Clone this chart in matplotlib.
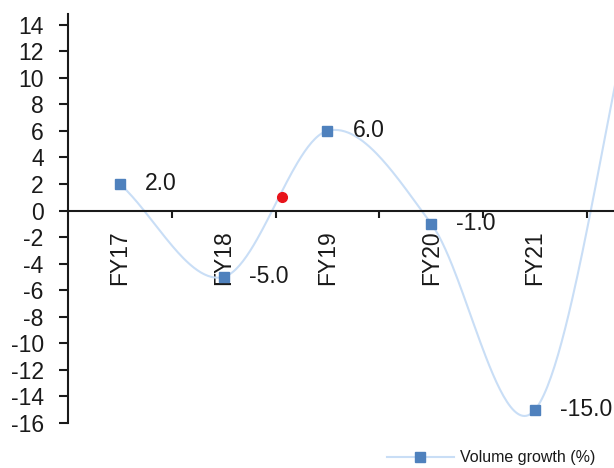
import numpy as np
import matplotlib
matplotlib.use("Agg")
import matplotlib.pyplot as plt

plt.rcParams['font.family'] = ['Liberation Sans Narrow', 'Liberation Sans', 'DejaVu Sans']
plt.rcParams['axes.unicode_minus'] = False

# data (FY22 is off the right edge, estimated from the curve)
years = ['FY17', 'FY18', 'FY19', 'FY20', 'FY21', 'FY22']
volume_growth = [2.0, -5.0, 6.0, -1.0, -15.0, 18.0]
n_shown = 5
red_x = 1.56
red_y = 1.04

line_col = '#c9def6'
mark_col = '#4f81bd'
txt_col = '#1a1a1a'


def smooth(y, steps=60):
    # Excel style smoothing (Catmull-Rom with chord tangent at the ends)
    y = np.asarray(y, dtype=float)
    n = len(y)
    m = np.zeros(n)
    m[1:-1] = (y[2:] - y[:-2]) / 2
    m[0] = y[1] - y[0]
    m[-1] = y[-1] - y[-2]
    xs, ys = [], []
    t = np.linspace(0, 1, steps)
    for i in range(n - 1):
        h00 = 2*t**3 - 3*t**2 + 1
        h10 = t**3 - 2*t**2 + t
        h01 = -2*t**3 + 3*t**2
        h11 = t**3 - t**2
        xs.append(i + t)
        ys.append(h00*y[i] + h10*m[i] + h01*y[i+1] + h11*m[i+1])
    return np.concatenate(xs), np.concatenate(ys)


fig = plt.figure(figsize=(6.14, 4.68), dpi=100)
ax = fig.add_axes([0.1107, 0.0962, 0.8893, 0.8739])

sx, sy = smooth(volume_growth)
ax.plot(sx, sy, color=line_col, lw=1.5, zorder=2)
xi = np.arange(len(years))
ax.plot(xi, volume_growth, ls='none', marker='s', ms=6.5, color=mark_col, zorder=3)
# legend proxy
ax.plot([], [], color=line_col, lw=1.5, marker='s', ms=6.5, mfc=mark_col, mec=mark_col,
        label='Volume growth (%)')
ax.plot([red_x], [red_y], 'o', ms=7, color='#e8131b', zorder=4)

for i in range(n_shown):
    ax.annotate('%.1f' % volume_growth[i], (i, volume_growth[i]), xytext=(18, 0),
                textcoords='offset points', ha='left', va='center', fontsize=16.5,
                color=txt_col)

ax.set_xlim(-0.5, 4.76)
ax.set_ylim(-16, 14.8)
ax.set_yticks(np.arange(-16, 15, 2))

for s in ['top', 'right']:
    ax.spines[s].set_visible(False)
ax.spines['bottom'].set_position(('data', 0))
for s in ['left', 'bottom']:
    ax.spines[s].set_linewidth(1.5)
    ax.spines[s].set_color(txt_col)

ax.set_xticks(xi[:n_shown])
ax.set_xticklabels(years[:n_shown], rotation=90, va='top', ha='center')
ax.set_xticks(np.arange(0.5, 4.6, 1.0), minor=True)
ax.tick_params(axis='x', which='major', length=0, pad=14, labelsize=16.5, labelcolor=txt_col)
ax.tick_params(axis='x', which='minor', length=5, width=1.5, color=txt_col, direction='out')
ax.tick_params(axis='y', length=6.5, width=1.5, color=txt_col, pad=11, labelsize=16.5,
               labelcolor=txt_col)

fig.legend(loc='center', bbox_to_anchor=(0.80, 0.022), frameon=False,
           prop={'family': 'Liberation Sans', 'size': 11.5},
           handlelength=4.2, handletextpad=0.4, labelcolor=txt_col)

fig.savefig('out.png', dpi=100)
